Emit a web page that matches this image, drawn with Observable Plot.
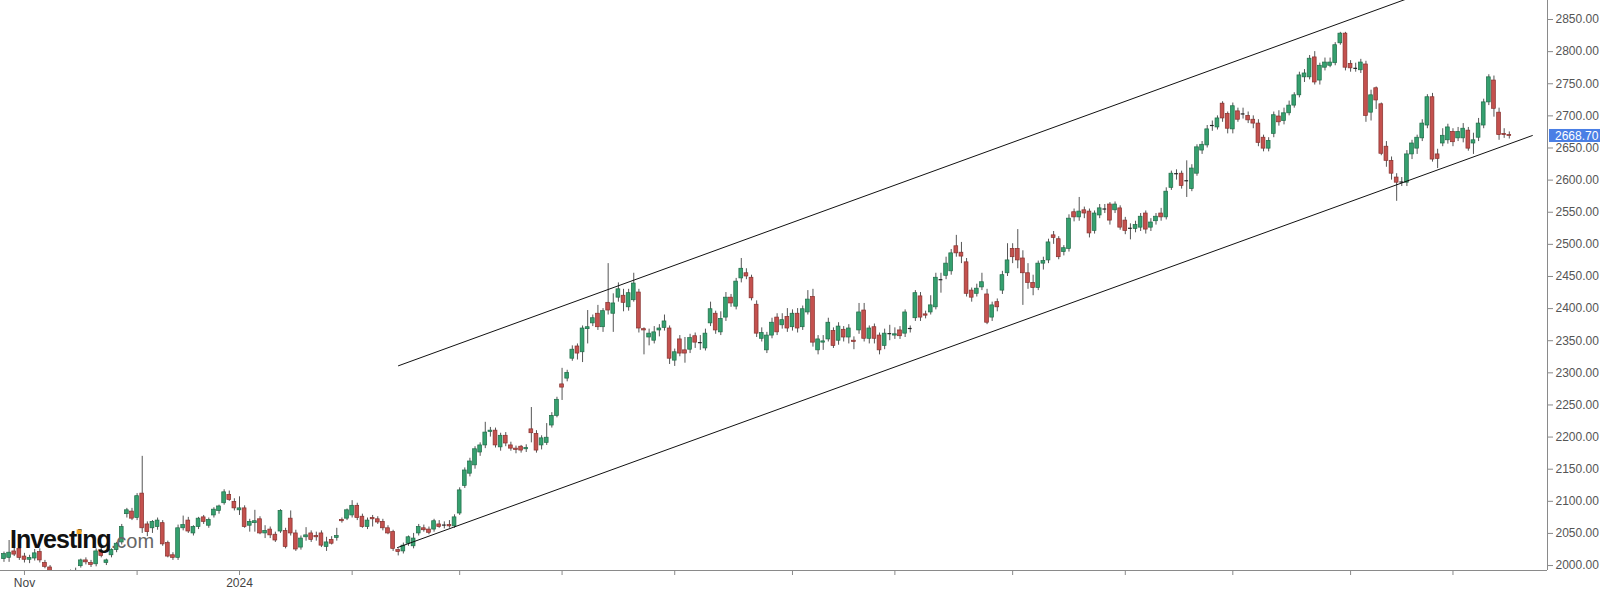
<!DOCTYPE html>
<html><head><meta charset="utf-8">
<script src="https://cdn.jsdelivr.net/npm/d3@7"></script>
<script src="https://cdn.jsdelivr.net/npm/@observablehq/plot@0.6"></script>
<style>html,body{margin:0;padding:0;background:#fff;} #chart{width:1600px;height:589px;overflow:hidden;}</style>
</head><body><div id="chart"></div>
<script>
// ---- data (daily OHLC, gold futures, Oct 26 2023 – Dec 17 2024) ----
const startDate = "2023-10-26";
const holidays = ["2023-12-25", "2024-01-01", "2024-03-29", "2024-11-28"];
const open = [
2010,2012,2022,2026,2014,2009,2011,2021,2004,1997,
1981,1984,1965,1970,1990,1999,2008,2004,2002,2022,
2004,2016,2024,2036,2080,2084,2074,2112,2064,2058,
2060,2066,2035,2016,2012,2058,2070,2050,2060,2075,
2062,2078,2085,2097,2110,2099,2086,2089,2062,2066,
2072,2050,2056,2048,2053,2054,2073,2050,2028,2044,
2050,2046,2050,2029,2040,2043,2071,2073,2078,2093,
2076,2060,2074,2072,2068,2058,2052,2024,2022,2034,
2030,2050,2058,2056,2056,2064,2062,2063,2061,2081,
2124,2143,2156,2176,2187,2208,2210,2184,2202,2187,
2182,2185,2181,2212,2205,2187,2191,2218,2233,2282,
2291,2322,2341,2332,2368,2377,2392,2371,2409,2392,
2417,2420,2402,2413,2425,2368,2355,2350,2366,2370,
2369,2319,2352,2335,2336,2357,2346,2338,2377,2392,
2363,2386,2417,2403,2447,2455,2448,2406,2353,2335,
2358,2386,2374,2387,2371,2392,2371,2394,2418,2335,
2347,2352,2365,2350,2367,2355,2350,2366,2397,2353,
2371,2358,2342,2360,2358,2366,2361,2368,2385,2419,
2391,2394,2402,2446,2451,2458,2497,2487,2472,2428,
2423,2433,2422,2386,2410,2428,2455,2493,2493,2478,
2455,2440,2432,2470,2475,2514,2508,2488,2493,2550,
2542,2553,2551,2521,2545,2556,2562,2553,2556,2537,
2526,2524,2526,2548,2526,2536,2548,2542,2588,2609,
2610,2600,2586,2610,2646,2654,2684,2682,2719,2703,
2679,2707,2704,2700,2694,2688,2666,2649,2672,2699,
2692,2704,2716,2732,2760,2760,2791,2755,2775,2778,
2782,2813,2828,2781,2774,2771,2780,2705,2743,2718,
2652,2630,2604,2596,2596,2640,2649,2665,2685,2729,
2640,2657,2662,2675,2665,2665,2677,2657,2666,2685,
2721,2755,2705,2672,2670];
const high = [
2021,2039,2028,2031,2019,2016,2025,2026,2008,2000,
1990,1988,1973,1993,1996,2010,2012,2008,2026,2028,
2010,2026,2036,2064,2089,2089,2112,2170,2068,2070,
2074,2070,2038,2020,2063,2077,2075,2062,2075,2078,
2074,2090,2094,2118,2116,2104,2107,2093,2072,2086,
2076,2062,2060,2052,2087,2058,2085,2055,2046,2059,
2054,2052,2054,2044,2045,2058,2074,2088,2101,2097,
2080,2074,2078,2076,2072,2062,2055,2026,2035,2046,
2050,2064,2063,2060,2072,2070,2068,2070,2079,2121,
2152,2167,2185,2191,2223,2215,2214,2206,2207,2192,
2186,2187,2188,2246,2210,2202,2221,2238,2262,2307,
2304,2342,2345,2373,2397,2390,2405,2400,2470,2423,
2440,2430,2430,2455,2430,2370,2368,2372,2375,2390,
2373,2337,2358,2355,2360,2362,2358,2368,2410,2396,
2395,2425,2422,2447,2478,2462,2452,2412,2370,2363,
2385,2392,2392,2400,2398,2400,2404,2428,2430,2358,
2358,2385,2370,2378,2372,2375,2356,2408,2408,2373,
2376,2362,2368,2374,2370,2372,2398,2373,2428,2425,
2396,2420,2455,2455,2480,2492,2514,2503,2478,2432,
2438,2455,2430,2410,2415,2458,2501,2501,2523,2490,
2470,2452,2474,2480,2508,2520,2512,2498,2546,2555,
2573,2558,2555,2552,2562,2562,2565,2566,2560,2542,
2532,2536,2548,2552,2540,2548,2556,2588,2614,2616,
2614,2630,2624,2655,2660,2685,2692,2700,2722,2706,
2720,2712,2712,2706,2700,2694,2670,2666,2706,2708,
2712,2723,2736,2768,2772,2794,2800,2782,2790,2790,
2814,2830,2830,2786,2782,2788,2785,2740,2745,2720,
2660,2636,2610,2604,2646,2662,2670,2694,2733,2735,
2648,2680,2687,2680,2682,2688,2682,2673,2696,2726,
2764,2762,2712,2680,2675];
const low = [
2005,2005,2014,2008,2004,2003,2007,2004,1995,1978,
1975,1962,1958,1966,1978,1996,2001,1997,1998,2012,
2000,2012,2020,2032,2074,2070,2070,2050,2045,2050,
2055,2030,2012,2008,2008,2054,2050,2046,2056,2064,
2058,2074,2080,2094,2100,2085,2078,2058,2052,2052,
2048,2042,2042,2036,2050,2026,2046,2022,2024,2038,
2036,2038,2028,2022,2032,2038,2066,2070,2074,2070,
2058,2056,2060,2064,2054,2048,2022,2015,2018,2030,
2026,2046,2052,2048,2052,2058,2057,2058,2058,2078,
2120,2138,2150,2170,2182,2200,2183,2178,2185,2178,
2174,2175,2176,2191,2175,2180,2187,2214,2230,2257,
2286,2318,2320,2316,2345,2372,2366,2363,2390,2363,
2410,2395,2396,2410,2362,2328,2342,2345,2356,2365,
2313,2310,2325,2315,2330,2338,2335,2334,2372,2360,
2358,2380,2402,2398,2440,2445,2412,2355,2348,2330,
2353,2358,2368,2363,2365,2362,2366,2390,2340,2328,
2335,2348,2338,2343,2348,2345,2336,2360,2348,2345,
2345,2328,2336,2350,2352,2352,2355,2362,2380,2380,
2384,2390,2398,2424,2445,2452,2480,2470,2418,2410,
2418,2428,2375,2380,2395,2422,2450,2470,2462,2405,
2430,2420,2428,2460,2470,2500,2476,2482,2488,2535,
2536,2540,2510,2516,2540,2548,2530,2548,2522,2515,
2507,2518,2520,2516,2520,2530,2536,2538,2584,2600,
2586,2573,2582,2606,2640,2650,2676,2678,2690,2672,
2672,2690,2695,2688,2680,2652,2644,2644,2666,2684,
2686,2700,2712,2728,2752,2756,2748,2748,2770,2775,
2778,2810,2770,2768,2768,2766,2690,2692,2710,2638,
2620,2600,2567,2590,2590,2632,2640,2660,2680,2628,
2618,2652,2656,2652,2660,2658,2645,2640,2660,2680,
2716,2698,2662,2665,2664];
const close = [
2018,2020,2017,2012,2009,2012,2019,2008,1998,1981,
1986,1965,1969,1990,1982,2008,2005,2001,2022,2015,
2008,2024,2034,2060,2086,2073,2108,2058,2052,2068,
2070,2033,2014,2012,2058,2063,2053,2060,2073,2068,
2071,2087,2092,2114,2102,2089,2089,2060,2068,2069,
2050,2054,2047,2039,2085,2029,2050,2025,2042,2047,
2040,2044,2031,2036,2034,2046,2069,2086,2093,2074,
2060,2070,2072,2067,2058,2050,2026,2021,2031,2044,
2042,2060,2055,2051,2069,2060,2063,2061,2075,2117,
2148,2162,2181,2187,2207,2210,2187,2202,2190,2182,
2180,2179,2183,2206,2179,2198,2199,2233,2258,2277,
2300,2336,2330,2369,2371,2385,2371,2396,2397,2408,
2430,2409,2424,2439,2369,2366,2361,2363,2369,2380,
2322,2332,2330,2330,2354,2347,2347,2361,2399,2366,
2384,2417,2408,2442,2462,2450,2416,2361,2362,2358,
2378,2363,2382,2369,2392,2369,2399,2414,2347,2352,
2349,2378,2342,2372,2355,2369,2348,2394,2353,2369,
2353,2335,2361,2361,2360,2357,2394,2369,2424,2386,
2389,2405,2448,2445,2470,2486,2486,2481,2423,2417,
2431,2441,2378,2405,2402,2452,2475,2480,2475,2455,
2440,2432,2470,2474,2503,2510,2480,2494,2540,2542,
2551,2548,2517,2548,2556,2555,2537,2562,2526,2521,
2525,2530,2543,2523,2534,2543,2542,2582,2610,2610,
2591,2599,2618,2651,2655,2679,2685,2696,2696,2680,
2715,2694,2703,2693,2688,2658,2649,2661,2701,2690,
2704,2716,2732,2763,2766,2789,2752,2778,2783,2783,
2810,2828,2775,2774,2774,2783,2700,2732,2724,2641,
2630,2610,2596,2597,2640,2657,2666,2688,2729,2632,
2633,2669,2682,2659,2675,2680,2649,2662,2688,2721,
2760,2711,2670,2670,2668.70];
const yTicks = [2000,2050,2100,2150,2200,2250,2300,2350,2400,2450,2500,2550,2600,2650,2700,2750,2800,2850];
const lastPrice = 2668.70;
// trend channel (candle index, price)
const channelUpper = [{i: 77.05, v: 2311}, {i: 276.7, v: 2890}];
const channelLower = [{i: 76.86, v: 2028}, {i: 298.5, v: 2669.4}];

// ---- build table ----
const dates = [];
{
  const d = new Date(startDate + "T00:00:00Z");
  while (dates.length < open.length) {
    const s = d.toISOString().slice(0, 10), wd = d.getUTCDay();
    if (wd !== 0 && wd !== 6 && !holidays.includes(s)) dates.push(new Date(d));
    d.setUTCDate(d.getUTCDate() + 1);
  }
}
const candles = open.map((o, i) => ({i, date: dates[i], open: o, high: high[i], low: low[i], close: close[i]}));
const monthTicks = candles.filter((d, i) => i > 0 && d.date.getUTCMonth() !== dates[i - 1].getUTCMonth());
const tickLabel = new Map(monthTicks.map(d => {
  const m = d.date.getUTCMonth(), y = d.date.getUTCFullYear();
  return [d.i, m === 0 ? String(y) : (m === 10 && y === 2023 ? "Nov" : "")];
}));

const xDomain = [-0.68, 301.46];
const yDomain = [1992.3, 2879.6];
const up = d => d.close >= d.open;
const W = 0.37;
const FONT = "'Liberation Sans', Arial, sans-serif";

const plot = Plot.plot({
  width: 1600, height: 589,
  marginTop: 0, marginBottom: 19, marginLeft: 0, marginRight: 53,
  style: {fontFamily: FONT, fontSize: "12px", background: "#fff"},
  x: {type: "linear", domain: xDomain, label: null},
  y: {domain: yDomain, label: null},
  color: {type: "identity"},
  marks: [
    Plot.ruleX(candles, {x: "i", y1: "low", y2: "high", stroke: "#555", strokeWidth: 1, clip: true}),
    Plot.rect(candles.filter(d => Math.abs(d.close - d.open) >= 1.2), {
      x1: d => d.i - W, x2: d => d.i + W,
      y1: d => Math.min(d.open, d.close), y2: d => Math.max(d.open, d.close),
      fill: d => up(d) ? "#35a06f" : "#c4514e",
      stroke: d => up(d) ? "#1f6b47" : "#86302d",
      strokeWidth: 0.7, clip: true
    }),
    Plot.ruleY(candles.filter(d => Math.abs(d.close - d.open) < 1.2), {
      y: "close", x1: d => d.i - W, x2: d => d.i + W, stroke: "#222", strokeWidth: 1.2, clip: true
    }),
    Plot.line(channelUpper, {x: "i", y: "v", stroke: "#111", strokeWidth: 1, clip: true}),
    Plot.line(channelLower, {x: "i", y: "v", stroke: "#111", strokeWidth: 1, clip: true}),
    Plot.ruleY([yDomain[0]], {stroke: "#8a8a8a"}),
    Plot.ruleX([xDomain[1]], {stroke: "#8a8a8a"}),
    Plot.axisX({ticks: monthTicks.map(d => d.i), tickFormat: i => tickLabel.get(i) ?? "", label: null,
      tickSize: 5, tickPadding: 3, stroke: "#8a8a8a", fill: "#444", fontSize: 12}),
    Plot.axisY({anchor: "right", ticks: yTicks, tickFormat: d3.format(".2f"), label: null,
      tickSize: 5, tickPadding: 3, stroke: "#8a8a8a", fill: "#555", fontSize: 12})
  ]
});
document.getElementById("chart").append(plot);

// current price marker
const svg = d3.select(plot);
const yp = plot.scale("y").apply(lastPrice);
const xr = plot.scale("x").range[1];
svg.append("rect").attr("x", xr + 2).attr("y", yp - 6.5).attr("width", 1600 - xr - 2).attr("height", 13).attr("fill", "#4a7fe5");
svg.append("text").attr("x", xr + 8).attr("y", yp).attr("dy", "0.35em").attr("fill", "#fff")
  .attr("text-anchor", "start").attr("font-size", 12).attr("font-family", FONT)
  .text(d3.format(".2f")(lastPrice));

// watermark
const logo = svg.append("text").attr("x", 10).attr("y", 548).attr("text-anchor", "start").attr("font-family", FONT);
logo.append("tspan").attr("font-weight", "bold").attr("font-size", 25).attr("letter-spacing", -1).attr("fill", "#111").text("Investing");
logo.append("tspan").attr("font-size", 20).attr("fill", "#666").text(".com");
try {
  const ext = logo.node().getExtentOfChar(6);
  svg.append("rect").attr("x", ext.x + ext.width / 2 - 2.6).attr("y", 548 - 18.5).attr("width", 5).attr("height", 4.5).attr("fill", "#f5a623");
} catch (e) {}
</script>
</body></html>
